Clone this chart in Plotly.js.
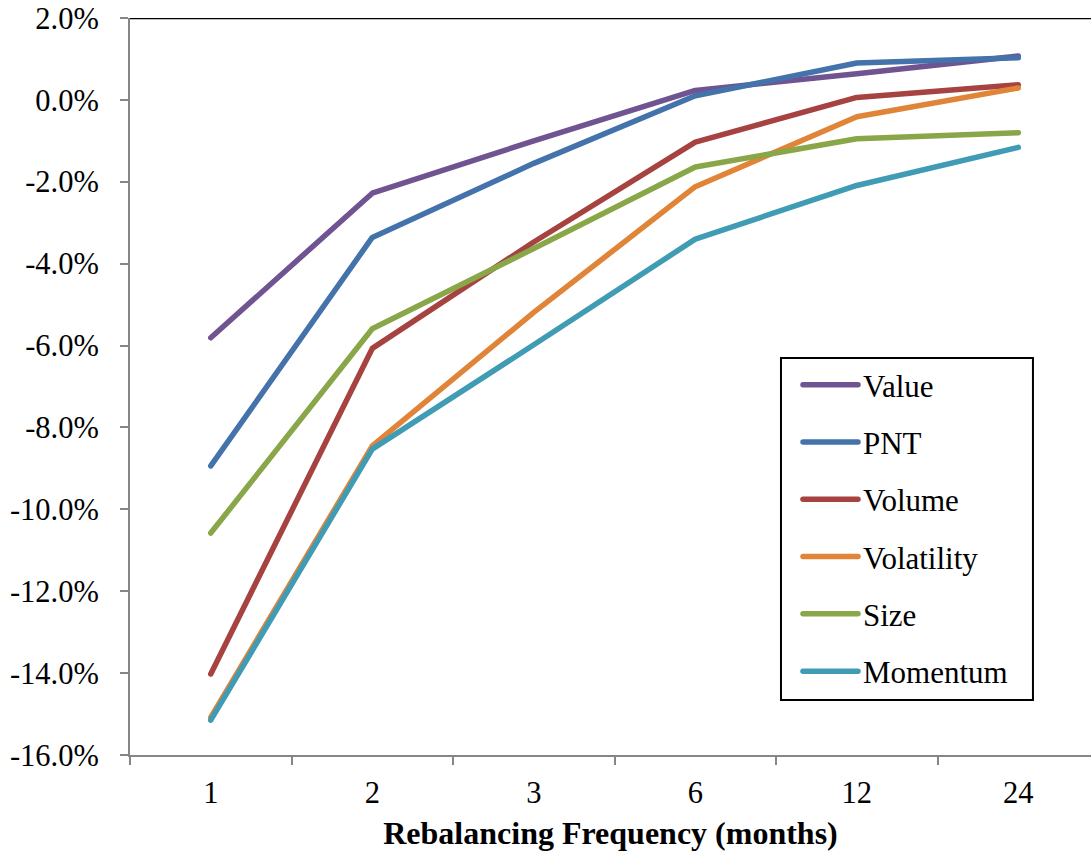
<!DOCTYPE html>
<html>
<head>
<meta charset="utf-8">
<script src="https://cdn.plot.ly/plotly-3.0.1.min.js"></script>
<style>
html,body{margin:0;padding:0;background:#fff;}
#chart{width:1091px;height:856px;}
path.js-line{stroke-linecap:round !important;stroke-linejoin:round !important;}
</style>
</head>
<body>
<div id="chart"></div>
<script>
const categories = ["1", "2", "3", "6", "12", "24"];
const seriesNames = ["Value", "PNT", "Volume", "Volatility", "Size", "Momentum"];
const valueSeries = [-5.81, -2.28, -1.00, 0.23, 0.64, 1.07];
const pntSeries = [-8.94, -3.36, -1.55, 0.10, 0.90, 1.03];
const volumeSeries = [-14.02, -6.07, -3.47, -1.03, 0.06, 0.37];
const volatilitySeries = [-15.08, -8.45, -5.19, -2.12, -0.41, 0.29];
const sizeSeries = [-10.58, -5.59, -3.63, -1.64, -0.95, -0.80];
const momentumSeries = [-15.15, -8.53, -5.98, -3.40, -2.09, -1.16];
const yTickVals = [-16, -14, -12, -10, -8, -6, -4, -2, 0, 2];
const yTickText = ["-16.0%", "-14.0%", "-12.0%", "-10.0%", "-8.0%", "-6.0%", "-4.0%", "-2.0%", "0.0%", "2.0%"];

const seriesValues = [valueSeries, pntSeries, volumeSeries, volatilitySeries, sizeSeries, momentumSeries];
const colors = ["#705491", "#4472AA", "#A6423F", "#E08438", "#89A648", "#409BB4"];
const font = "Liberation Serif, Times New Roman, serif";

const traces = seriesNames.map((name, i) => ({
  type: "scatter",
  mode: "lines",
  name: name,
  legendgroup: name,
  x: categories,
  y: seriesValues[i],
  line: {color: colors[i], width: 5.5},
  hoverinfo: "x+y+name"
}));

const layout = {
  width: 1091,
  height: 856,
  margin: {l: 130, r: 0, t: 18, b: 101},
  paper_bgcolor: "#ffffff",
  plot_bgcolor: "#ffffff",
  font: {family: font, size: 30, color: "#000"},
  showlegend: true,
  legend: {
    x: 0.6951, y: 0.5387, xanchor: "left", yanchor: "top",
    bgcolor: "rgba(0,0,0,0)", borderwidth: 0,
    font: {family: font, size: 31, color: "#000"},
    traceorder: "grouped", tracegroupgap: 14,
    itemwidth: 55
  },
  xaxis: {
    type: "category",
    range: [-0.5, 5.45],
    showgrid: false,
    zeroline: false,
    showline: true,
    linecolor: "#868686",
    linewidth: 2,
    ticks: "outside",
    tickson: "boundaries",
    ticklen: 8,
    tickwidth: 2,
    tickcolor: "#868686",
    ticklabelstandoff: 9,
    tickfont: {family: font, size: 30.5, color: "#000"},
    title: {text: "<b>Rebalancing Frequency (months)</b>", font: {family: font, size: 32, color: "#000"}, standoff: 13}
  },
  yaxis: {
    range: [-16, 2],
    showgrid: false,
    zeroline: false,
    showline: true,
    linecolor: "#868686",
    linewidth: 2,
    ticks: "outside",
    ticklen: 8,
    tickwidth: 2,
    tickcolor: "#868686",
    tickvals: yTickVals,
    ticktext: yTickText,
    ticklabelstandoff: 15,
    tickfont: {family: font, size: 30.5, color: "#000"}
  },
  shapes: [
    {type: "line", xref: "paper", yref: "y", x0: 0, x1: 1, y0: 2, y1: 2,
     line: {color: "#000000", width: 2.5}},
    {type: "rect", xref: "paper", yref: "paper", x0: 0.6774, x1: 0.9396, y0: 0.0746, y1: 0.5387,
     fillcolor: "#ffffff", line: {color: "#000000", width: 2}, layer: "above"}
  ]
};

Plotly.newPlot("chart", traces, layout, {displayModeBar: false, staticPlot: true});
</script>
</body>
</html>
